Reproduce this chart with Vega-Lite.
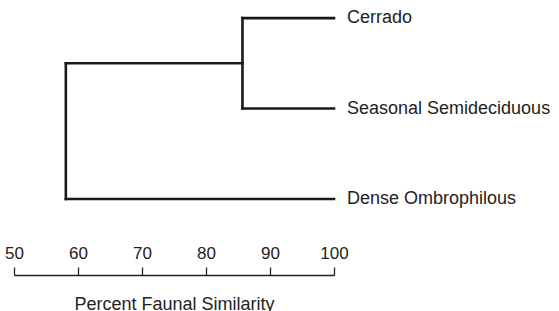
{
  "$schema": "https://vega.github.io/schema/vega-lite/v6.json",
  "width": 320,
  "height": 275,
  "autosize": {"type": "none"},
  "padding": {"left": 14, "top": 0, "right": 225, "bottom": 36},
  "background": "white",
  "config": {"view": {"stroke": null}},
  "datasets": {
    "segments": [
      {"x": 85.7, "x2": 100, "y": 1, "y2": 1},
      {"x": 85.7, "x2": 100, "y": 2, "y2": 2},
      {"x": 85.7, "x2": 85.7, "y": 1, "y2": 2},
      {"x": 58.1, "x2": 85.7, "y": 1.5, "y2": 1.5},
      {"x": 58.1, "x2": 100, "y": 3, "y2": 3},
      {"x": 58.1, "x2": 58.1, "y": 1.5, "y2": 3}
    ],
    "leaves": [
      {"name": "Cerrado", "sim": 100, "pos": 1},
      {"name": "Seasonal Semideciduous", "sim": 100, "pos": 2},
      {"name": "Dense Ombrophilous", "sim": 100, "pos": 3}
    ]
  },
  "layer": [
    {
      "data": {"name": "segments"},
      "mark": {"type": "rule", "color": "#1a1a1a", "strokeWidth": 2.6, "strokeCap": "square"},
      "encoding": {
        "x": {
          "field": "x", "type": "quantitative",
          "scale": {"domain": [50, 100], "nice": false, "zero": false},
          "axis": {
            "values": [50, 60, 70, 80, 90, 100],
            "title": "Percent Faunal Similarity",
            "grid": false,
            "tickSize": -8,
            "tickColor": "#222",
            "tickWidth": 1.3,
            "domainColor": "#222",
            "domainWidth": 1.3,
            "labelFont": "Liberation Sans",
            "labelFontSize": 17,
            "labelColor": "#222",
            "labelBaseline": "alphabetic",
            "labelPadding": -9,
            "labelFlush": false,
            "labelOverlap": false,
            "titleFont": "Liberation Sans",
            "titleFontSize": 18,
            "titleFontWeight": "normal",
            "titleColor": "#222",
            "titleBaseline": "alphabetic",
            "titleY": 34
          }
        },
        "x2": {"field": "x2"},
        "y": {
          "field": "y", "type": "quantitative",
          "scale": {"domain": [0.8, 3.84], "reverse": true, "nice": false, "zero": false},
          "axis": null
        },
        "y2": {"field": "y2"}
      }
    },
    {
      "data": {"name": "leaves"},
      "mark": {"type": "text", "align": "left", "baseline": "middle", "dx": 13, "font": "Liberation Sans", "fontSize": 18, "color": "#222"},
      "encoding": {
        "x": {"field": "sim", "type": "quantitative"},
        "y": {"field": "pos", "type": "quantitative"},
        "text": {"field": "name"}
      }
    }
  ]
}
